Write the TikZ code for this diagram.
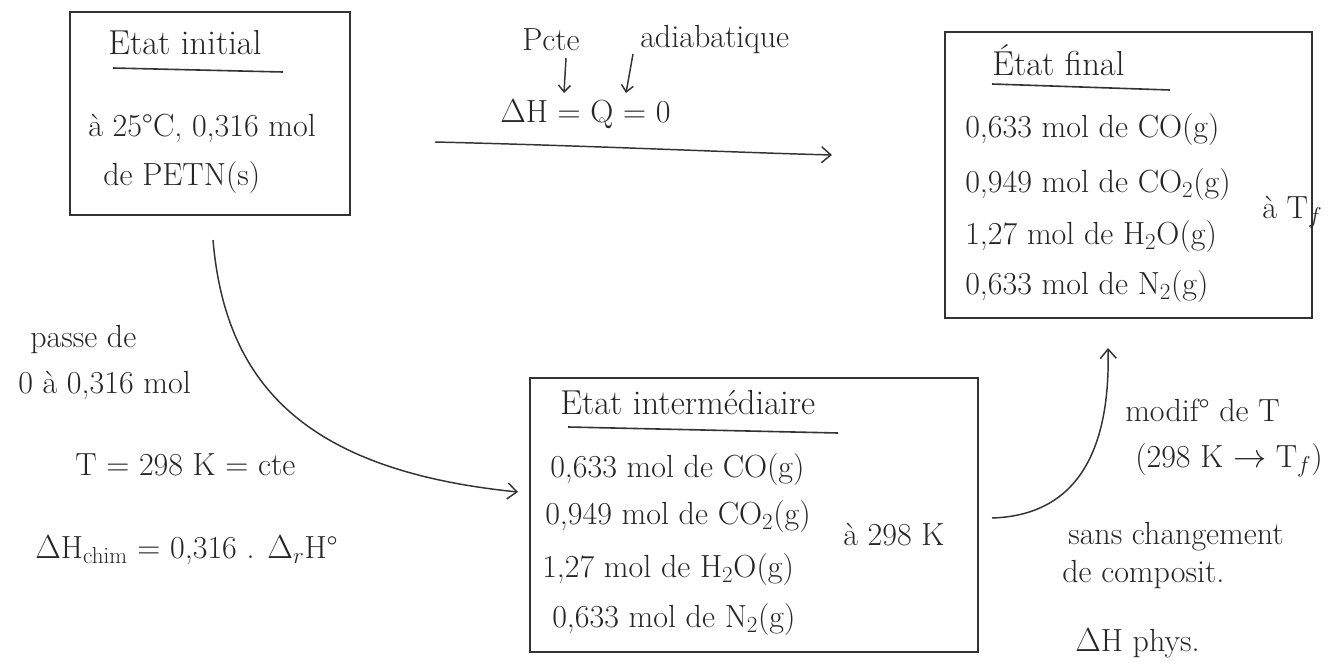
\documentclass[tikz,border=0pt]{standalone}
\usetikzlibrary{arrows.meta}
\begin{document}
\begin{tikzpicture}[x=0.75pt,y=-0.75pt,
  box/.style={draw=black!80, line width=1.3pt, rectangle, inner sep=0pt},
  txt/.style={font=\fontsize{24}{28}\selectfont, anchor=west, inner sep=0pt, text=black!85},
  ttl/.style={font=\fontsize{26}{30}\selectfont, anchor=west, inner sep=0pt, text=black!85},
  uline/.style={line width=1.2pt, draw=black!80},
  conn/.style={line width=1.1pt, draw=black!80, -{Straight Barb[length=7pt,width=12pt]}},
  small/.style={line width=1.1pt, draw=black!80, -{Straight Barb[length=5pt,width=9pt]}}]
\useasboundingbox[fill=white] (0,0) rectangle (1343,671);
% boxes
\node[box, minimum width=210pt, minimum height=152.25pt] (init) at (210,113.5) {};
\node[box, minimum width=275.25pt, minimum height=214.5pt] (final) at (1128.5,175) {};
\node[box, minimum width=336pt, minimum height=205.5pt] (inter) at (754,515) {};
% initial state
\node[ttl] (ti) at (108,43) {Etat initial};
\draw[uline] (113,68) -- (283,72);
\node[txt] (i1) at (88,128) {à 25°C, 0,316 mol};
\node[txt] (i2) at (103,178) {de PETN(s)};
% final state
\node[ttl] (tf) at (992,60) {État final};
\draw[uline] (992,84) -- (1170,90);
\node[txt] (f1) at (965,130) {0,633 mol de CO(g)};
\node[txt] (f2) at (965,185) {0,949 mol de CO$_2$(g)};
\node[txt] (f3) at (965,237) {1,27 mol de H$_2$O(g)};
\node[txt] (f4) at (965,287) {0,633 mol de N$_2$(g)};
\node[txt] (f5) at (1262,212) {à T$_f$};
% intermediate state
\node[ttl] (tm) at (560,403) {Etat intermédiaire};
\draw[uline] (568,427) -- (838,433);
\node[txt] (m1) at (550,470) {0,633 mol de CO(g)};
\node[txt] (m2) at (545,517) {0,949 mol de CO$_2$(g)};
\node[txt] (m3) at (542,570) {1,27 mol de H$_2$O(g)};
\node[txt] (m4) at (552,620) {0,633 mol de N$_2$(g)};
\node[txt] (m5) at (843,535) {à 298 K};
% top transformation
\coordinate (a1) at (435,142);
\coordinate (a2) at (832,155);
\draw[conn] (a1) .. controls (600,146) and (720,152) .. (a2);
\node[txt] (pc) at (522,40) {Pcte};
\node[txt] (ad) at (640,40) {adiabatique};
\node[txt] (dh) at (500,114) {$\Delta$H = Q = 0};
\coordinate (p1) at (566,58);
\coordinate (p2) at (564,93);
\coordinate (q1) at (633,54);
\coordinate (q2) at (626,93);
\draw[small] (p1) -- (p2);
\draw[small] (q1) -- (q2);
% left transformation
\coordinate (b1) at (213,240);
\coordinate (b2) at (518,492);
\draw[conn] (b1) .. controls (225,380) and (300,470) .. (b2);
\node[txt] (l1) at (30,340) {passe de};
\node[txt] (l2) at (18,385) {0 à 0,316 mol};
\node[txt] (l3) at (75,465) {T = 298 K = cte};
\node[txt] (l4) at (35,550) {$\Delta$H$_{\mathrm{chim}}$ = 0,316 . $\Delta_r$H°};
% right transformation
\coordinate (c1) at (992,518);
\coordinate (c2) at (1108,348);
\draw[conn] (c1) .. controls (1090,515) and (1110,430) .. (c2);
\node[txt] (r1) at (1125,410) {modif° de T};
\node[txt] (r2) at (1135,460) {(298 K $\rightarrow$ T$_f$)};
\node[txt] (r3) at (1068,537) {sans changement};
\node[txt] (r4) at (1062,575) {de composit.};
\node[txt] (r5) at (1075,643) {$\Delta$H phys.};
\end{tikzpicture}
\end{document}
